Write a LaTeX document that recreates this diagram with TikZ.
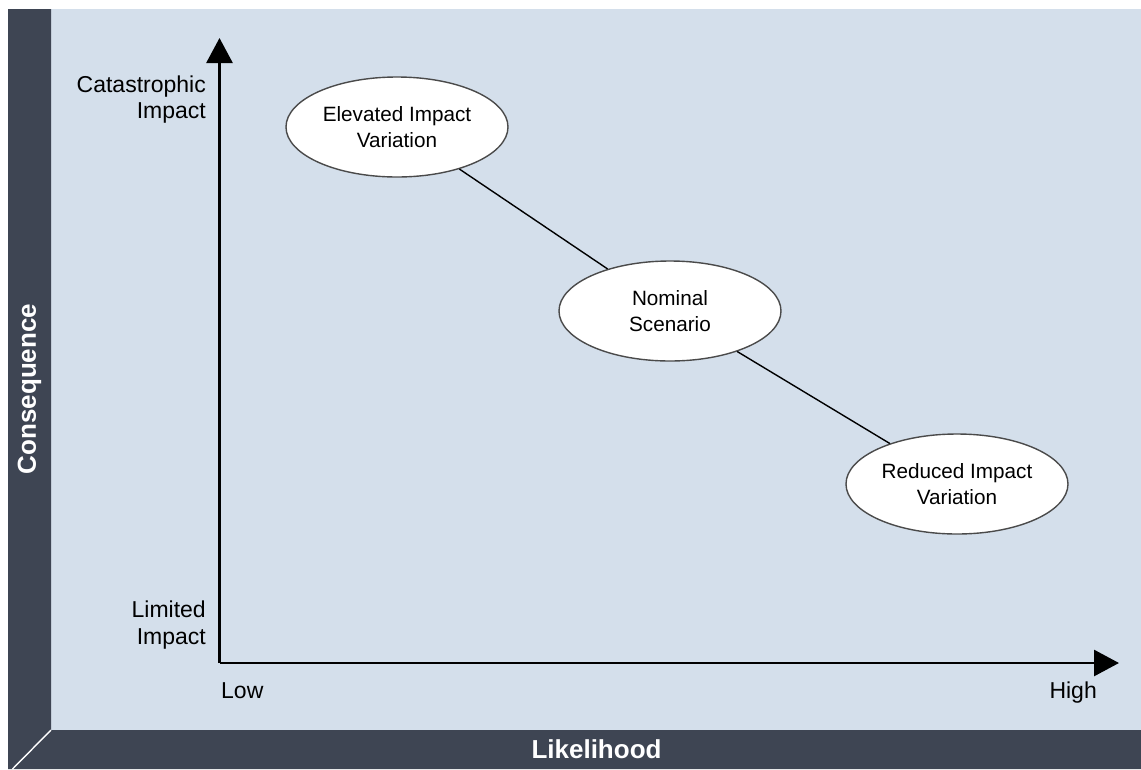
\documentclass[tikz,border=0pt]{standalone}
\usepackage{fontspec}
\setmainfont{Liberation Sans}
\usetikzlibrary{arrows.meta,shapes.geometric}
\definecolor{panel}{HTML}{3E4553}
\definecolor{field}{HTML}{D4DFEB}
\definecolor{rim}{HTML}{4A4A4A}
\tikzset{
  axis/.style={line width=2.8pt,-{Triangle[length=25pt,width=26pt]}},
  scenario/.style={ellipse,draw=rim,line width=1.4pt,fill=white,
    minimum width=222pt,minimum height=100pt,inner sep=0pt,align=center,
    font=\fontsize{20.7}{25.5}\selectfont},
  link/.style={line width=1.4pt},
  ticklabel/.style={inner sep=0pt,font=\fontsize{23}{26.5}\selectfont},
  barlabel/.style={text=white,inner sep=0pt,font=\fontsize{26}{30}\selectfont\bfseries}
}
\begin{document}
\begin{tikzpicture}[x=1pt,y=-1pt]
  \useasboundingbox (0,0) rectangle (1141,769);
  \fill[white] (0,0) rectangle (1141,769);
  % plotting field and the dark frame on the left and bottom
  \fill[field] (51,9) rectangle (1141,730);
  \fill[panel] (8,9) -- (51,9) -- (51,730) -- (1141,730) -- (1141,769) -- (8,769) -- cycle;
  \draw[white,line width=1.4pt] (51,730) -- (12.5,769);

  % frame labels
  \node[barlabel] (xlab) at (596.5,749) {Likelihood};
  \node[barlabel,rotate=90] (ylab) at (29.5,389) {Consequence};

  % axes
  \coordinate (origin) at (219.5,663);
  \coordinate (ytip) at (219.5,38);
  \coordinate (xtip) at (1119,663);
  \draw[axis] (origin) -- (ytip);
  \draw[axis] (origin) -- (xtip);

  % axis labels
  \node[ticklabel,anchor=east,align=right] (cat) at (206,99.5) {Catastrophic\\Impact};
  \node[ticklabel,anchor=east,align=right] (lim) at (206,625) {Limited\\Impact};
  \node[ticklabel,anchor=base west] (low) at (221,698) {Low};
  \node[ticklabel,anchor=base east] (high) at (1097,698) {High};

  % scenarios
  \node[scenario] (elev) at (397,127) {Elevated Impact\\Variation};
  \node[scenario] (nom) at (670,311) {Nominal\\Scenario};
  \node[scenario] (red) at (957,484) {Reduced Impact\\Variation};
  \draw[link] (elev) -- (nom);
  \draw[link] (nom) -- (red);
\end{tikzpicture}
\end{document}
